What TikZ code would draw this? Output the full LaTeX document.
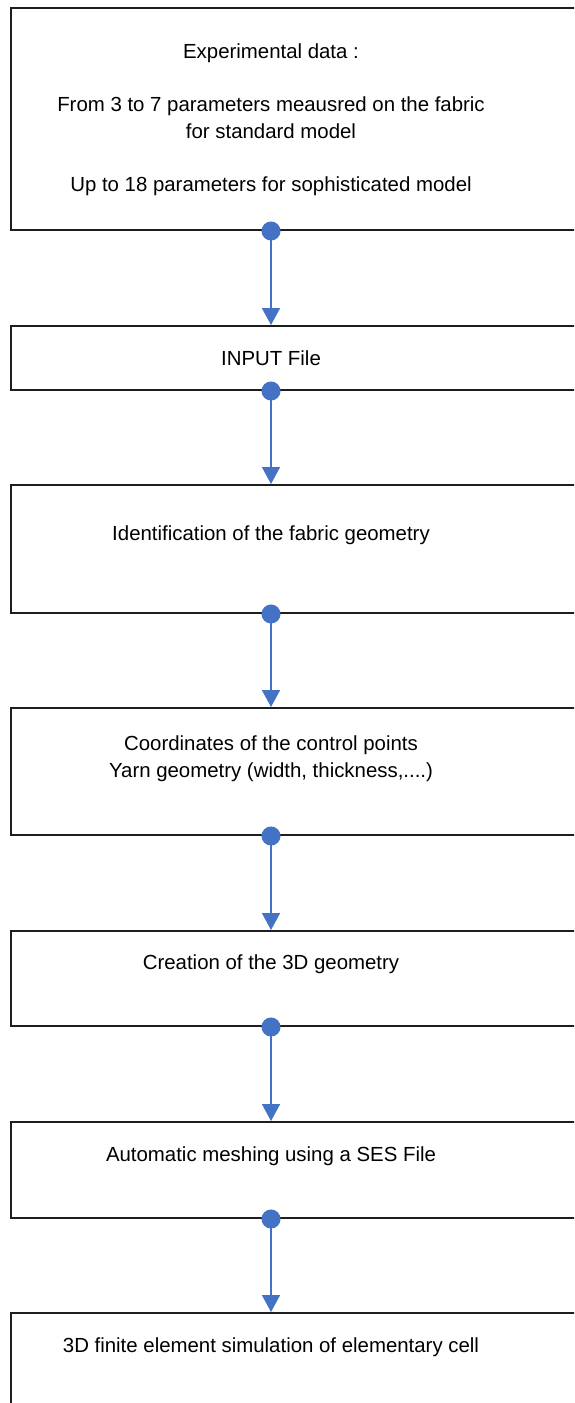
\documentclass[tikz,border=0pt]{standalone}
\usepackage{fontspec}
\setmainfont{Liberation Sans}
\usetikzlibrary{arrows.meta}
\definecolor{conn}{HTML}{4472C4}
\definecolor{edge}{HTML}{1E1E1E}
\tikzset{
  stepbox/.style={draw=edge, line width=2pt, rectangle, anchor=north west, minimum width=570pt, inner sep=0pt},
  lbl/.style={text=black, align=center, font=\fontsize{20.4}{26.7}\selectfont, inner sep=0pt},
  flow/.style={draw=conn, line width=1.8pt, {Circle[length=19pt]}-{Triangle[width=18pt,length=17pt]}, shorten <=-9.5pt}
}
\begin{document}
\begin{tikzpicture}[x=1pt,y=-1pt]
\useasboundingbox (0,0) rectangle (574,1403);
\clip (0,0) rectangle (574,1403);
\fill[white] (0,0) rectangle (574,1403);
\node[stepbox, minimum height=222pt] (b1) at (10,7) {};
\node[stepbox, minimum height=64pt] (b2) at (10,325) {};
\node[stepbox, minimum height=128pt] (b3) at (10,484) {};
\node[stepbox, minimum height=127pt] (b4) at (10,707) {};
\node[stepbox, minimum height=95pt] (b5) at (10,930) {};
\node[stepbox, minimum height=96pt] (b6) at (10,1121) {};
\node[stepbox, minimum height=120pt] (b7) at (10,1312) {};
\node[lbl] (t1) at (271,119.5) {Experimental data :\\[26.7pt]From 3 to 7 parameters meausred on the fabric\\for standard model\\[26.7pt]Up to 18 parameters for sophisticated model};
\node[lbl] (t2) at (271,358) {INPUT File};
\node[lbl] (t3) at (271,535) {Identification of the fabric geometry};
\node[lbl] (t4) at (271,759) {Coordinates of the control points\\Yarn geometry (width, thickness,....)};
\node[lbl] (t5) at (271,964) {Creation of the 3D geometry};
\node[lbl] (t6) at (271,1156) {Automatic meshing using a SES File};
\node[lbl] (t7) at (271,1347) {3D finite element simulation of elementary cell};
\draw[flow] (b1.south -| t1) -- (b2.north -| t1);
\draw[flow] (b2.south -| t1) -- (b3.north -| t1);
\draw[flow] (b3.south -| t1) -- (b4.north -| t1);
\draw[flow] (b4.south -| t1) -- (b5.north -| t1);
\draw[flow] (b5.south -| t1) -- (b6.north -| t1);
\draw[flow] (b6.south -| t1) -- (b7.north -| t1);
\end{tikzpicture}
\end{document}
